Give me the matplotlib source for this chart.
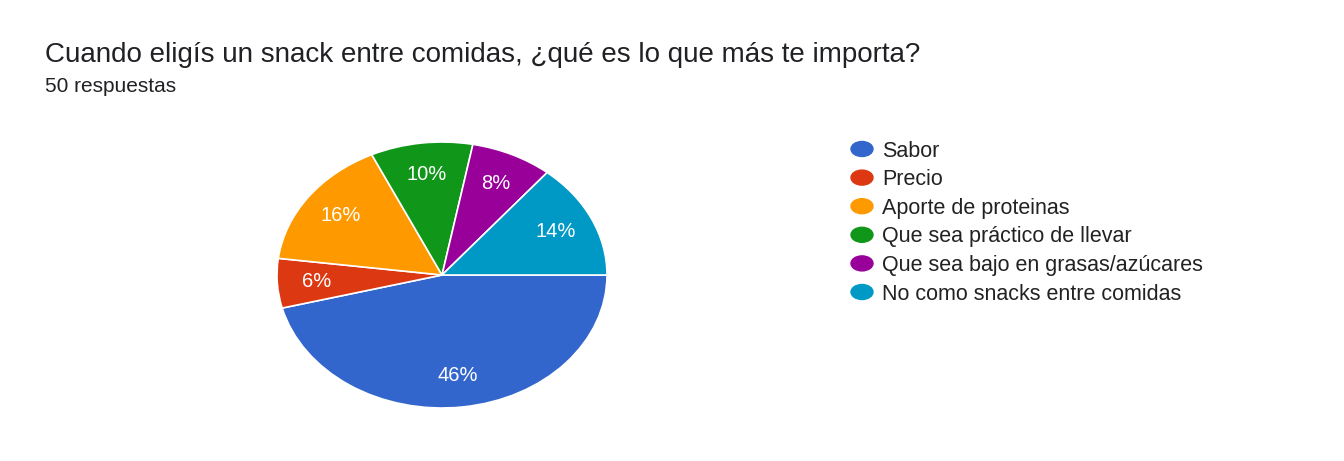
import matplotlib.pyplot as plt
from matplotlib.patches import Ellipse

plt.rcParams['font.family'] = ['Liberation Sans', 'DejaVu Sans']

labels = ['Sabor', 'Precio', 'Aporte de proteinas', 'Que sea práctico de llevar',
          'Que sea bajo en grasas/azúcares', 'No como snacks entre comidas']
values = [46, 6, 16, 10, 8, 14]
colors = ['#3366cc', '#dc3912', '#ff9900', '#109618', '#990099', '#0099c6']

W, H = 1344, 461
fig = plt.figure(figsize=(W / 100, H / 100), dpi=100)

# pie area (pixels): x 277..607, y 142..408 -> slightly wider than tall
ax = fig.add_axes([277 / W, 1 - 408 / H, 330 / W, 266 / H])
wedges, texts, autotexts = ax.pie(values, colors=colors, startangle=0, counterclock=False,
                                  autopct='%1.0f%%', pctdistance=0.76,
                                  wedgeprops=dict(edgecolor='white', linewidth=1.2),
                                  textprops=dict(color='white', fontsize=14.5))
ax.set_aspect('auto')
ax.set_xlim(-1, 1)
ax.set_ylim(-1, 1)
ax.axis('off')

fig.text(45 / W, 1 - 55 / H, 'Cuando eligís un snack entre comidas, ¿qué es lo que más te importa?',
         fontsize=20, color='#202124', va='center', ha='left')
fig.text(45 / W, 1 - 86 / H, '50 respuestas', fontsize=15, color='#202124', va='center', ha='left')

# legend: wide oval markers like the original
for i, (lab, col) in enumerate(zip(labels, colors)):
    y = 1 - (149 + i * 28.6) / H
    fig.add_artist(Ellipse((862 / W, y), 22 / W, 15 / H, color=col,
                           transform=fig.transFigure))
    fig.text(882 / W, y - 2 / H, lab, fontsize=15.5, color='#222222', va='center', ha='left')

fig.savefig('out.png', dpi=100)
